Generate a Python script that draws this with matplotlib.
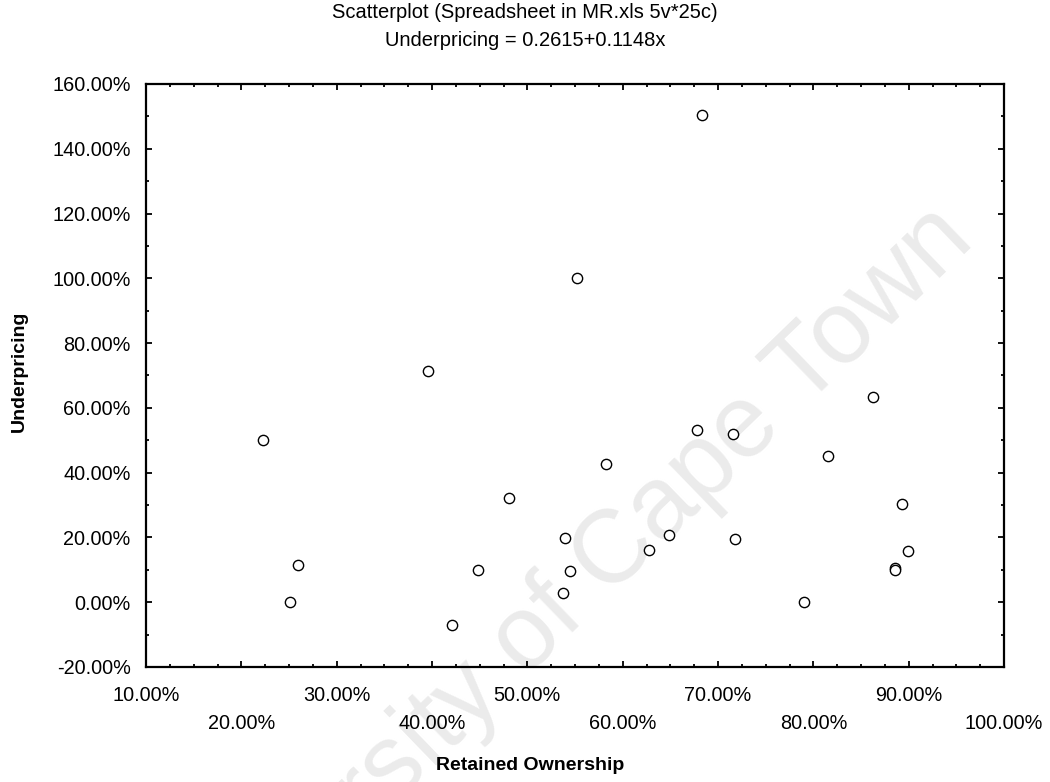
import matplotlib
matplotlib.use('Agg')
from matplotlib import pyplot as plt
from matplotlib.ticker import MultipleLocator, FixedLocator, FuncFormatter

plt.rcParams['font.family'] = ['Liberation Sans', 'DejaVu Sans']

# retained ownership (fraction) and underpricing (fraction), 25 cases
retained = [
    0.223, 0.259, 0.251, 0.396, 0.421, 0.4485, 0.481, 0.537, 0.539,
    0.545, 0.552, 0.582, 0.628, 0.649, 0.678, 0.683, 0.716, 0.718,
    0.790, 0.815, 0.863, 0.893, 0.899, 0.886, 0.886]
underpricing = [
    0.502, 0.116, 0.000, 0.713, -0.069, 0.098, 0.322, 0.030, 0.197,
    0.097, 1.000, 0.428, 0.160, 0.209, 0.533, 1.504, 0.519, 0.195,
    0.000, 0.453, 0.635, 0.302, 0.157, 0.107, 0.098]

x_ticks = [0.1, 0.2, 0.3, 0.4, 0.5, 0.6, 0.7, 0.8, 0.9, 1.0]

title = ('Scatterplot (Spreadsheet in MR.xls 5v*25c)\n'
         'Underpricing = 0.2615+0.1148x')

W, H = 1050, 782
fig = plt.figure(figsize=(W / 100., H / 100.), dpi=100)
ax = fig.add_axes([146. / W, 1 - 667. / H, (1004. - 146.) / W, (667. - 84.) / H])
ax.set_facecolor('none')

# faint scan watermark behind everything
fig.text(560. / W, 1 - 608. / H, 'University of Cape Town', rotation=44,
         rotation_mode='anchor', ha='center', va='center', fontsize=74,
         color='#ebebeb', zorder=-1)

ax.plot(retained, underpricing, linestyle='none', marker='o', ms=7.4,
        mfc='white', mec='black', mew=1.0, zorder=3)

ax.set_xlim(0.1, 1.0)
ax.set_ylim(-0.2, 1.6)

pct = FuncFormatter(lambda v, pos: '%.2f%%' % (v * 100.))
ax.xaxis.set_major_locator(FixedLocator(x_ticks))
ax.xaxis.set_minor_locator(MultipleLocator(0.025))
ax.yaxis.set_major_locator(MultipleLocator(0.2))
ax.yaxis.set_minor_locator(MultipleLocator(0.1))
ax.xaxis.set_major_formatter(pct)
ax.yaxis.set_major_formatter(pct)

ax.tick_params(which='both', direction='in', top=True, right=True,
               width=1.3, color='black')
ax.tick_params(which='major', length=4, labelsize=14.3)
ax.tick_params(which='minor', length=2.5)
ax.tick_params(axis='y', which='major', pad=11)

# staggered x tick labels: odd tens on the first row, even tens below
for i, tick in enumerate(ax.xaxis.get_major_ticks()):
    tick.set_pad(13.5 if i % 2 == 0 else 34)

for sp in ax.spines.values():
    sp.set_linewidth(1.6)
    sp.set_color('black')

ax.set_xlabel('Retained Ownership', fontsize=14, fontweight='bold', va='center')
ax.xaxis.set_label_coords(530. / W, 1 - 765. / H, transform=fig.transFigure)
ax.set_ylabel('Underpricing', fontsize=14, fontweight='bold', va='center')
ax.yaxis.set_label_coords(19. / W, 1 - 371. / H, transform=fig.transFigure)

fig.text(0.5, 1 - 3. / H, title, ha='center', va='top', fontsize=14.5,
         linespacing=1.6)

fig.savefig('out.png', dpi=100)
